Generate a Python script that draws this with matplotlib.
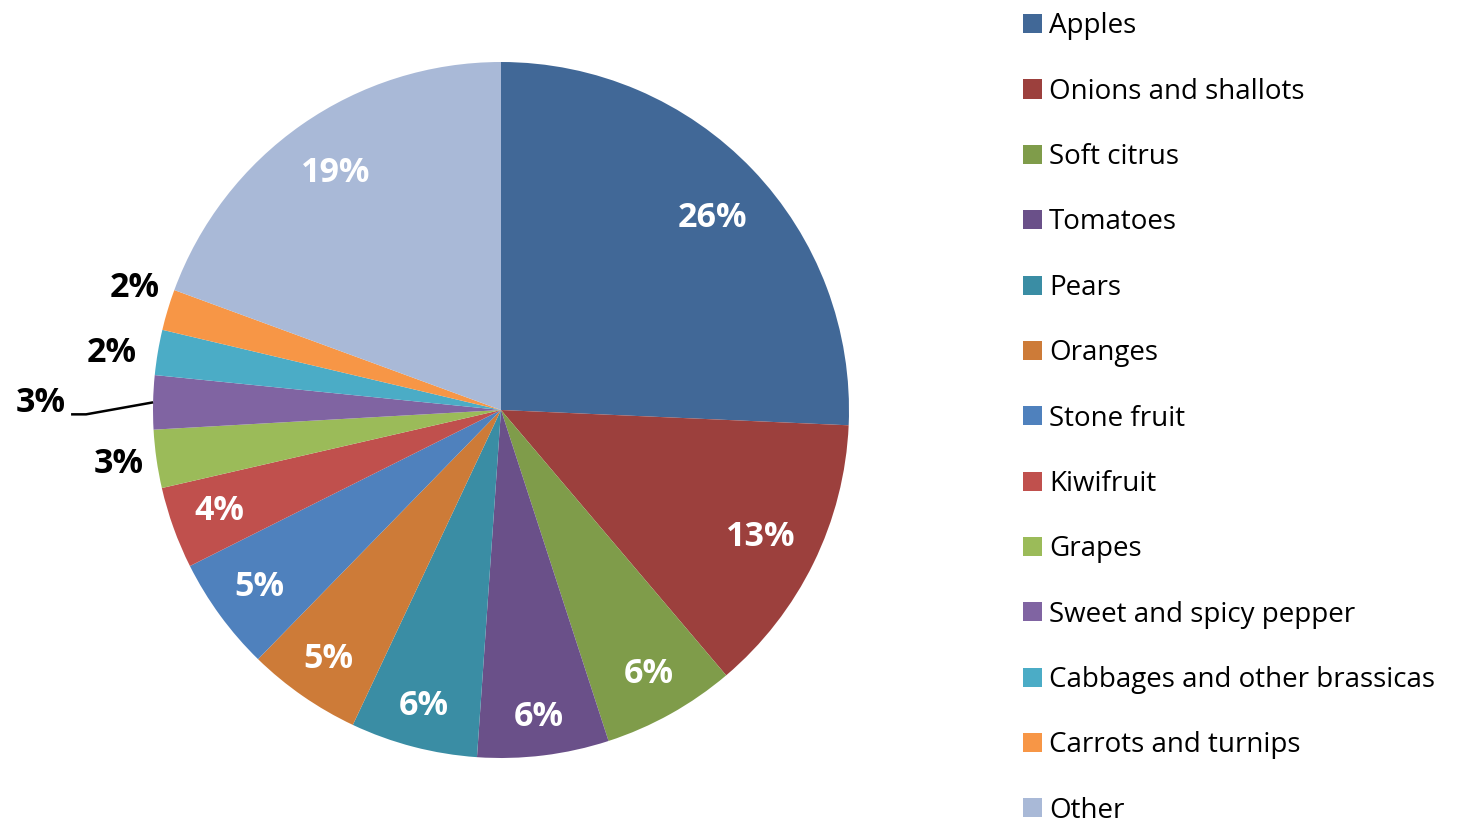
import numpy as np
import matplotlib
matplotlib.use("Agg")
import matplotlib.pyplot as plt

categories = ["Apples", "Onions and shallots", "Soft citrus", "Tomatoes", "Pears",
              "Oranges", "Stone fruit", "Kiwifruit", "Grapes", "Sweet and spicy pepper",
              "Cabbages and other brassicas", "Carrots and turnips", "Other"]
shares = [25.7, 13.1, 6.2, 6.1, 5.9, 5.3, 5.3, 3.8, 2.7, 2.5, 2.1, 1.9, 19.4]
labels = ["26%", "13%", "6%", "6%", "6%", "5%", "5%", "4%", "3%", "3%", "2%", "2%", "19%"]
colors = ["#416897", "#9C403D", "#7F9C4A", "#6A5089", "#3A8DA4", "#CD7B38",
          "#4F81BD", "#C0504D", "#9BBB59", "#8064A2", "#4BACC6", "#F79646", "#A9B9D7"]

plt.rcParams['font.family'] = ['Open Sans', 'DejaVu Sans']

W, H = 1463, 824
fig = plt.figure(figsize=(W / 100, H / 100), dpi=100)
ax = fig.add_axes([0, 0, 1, 1])

cx, cy, R = 501, H - 410, 348
wedges, _ = ax.pie(shares, colors=colors, startangle=90, counterclock=False,
                   center=(cx, cy), radius=R, wedgeprops=dict(linewidth=0),
                   frame=True)
ax.set_xlim(0, W)
ax.set_ylim(0, H)
ax.set_aspect('equal')
ax.axis('off')

FS = 24.5
# (radius factor, angular nudge in degrees) for each label
place = [(0.82, -1.5), (0.83, 0), (0.87, 0), (0.89, 0), (0.88, 0), (0.87, 0), (0.86, 0),
         (0.86, 0), (1.11, 0), None, (1.13, 1.2), (1.11, -1.6), (0.83, 0)]
for i, w in enumerate(wedges):
    mid_deg = (w.theta1 + w.theta2) / 2
    if place[i] is not None:
        rf, nudge = place[i]
        a = np.deg2rad(mid_deg + nudge)
        r = rf * R
        col = 'white' if rf < 1 else 'black'
        ax.text(cx + r * np.cos(a), cy + r * np.sin(a), labels[i], color=col,
                fontsize=FS, fontweight='bold', ha='center', va='center')
    else:
        a = np.deg2rad(mid_deg)
        ex, ey = cx + R * np.cos(a), cy + R * np.sin(a)
        ax.plot([ex, ex - 67, ex - 82], [ey, ey - 12, ey - 12], color='black', lw=1.8,
                solid_capstyle='butt')
        ax.text(ex - 87, ey - 1, labels[i], color='black', fontsize=FS,
                fontweight='bold', ha='right', va='center')

leg = fig.legend(wedges, categories, loc='upper left', bbox_to_anchor=(1012 / W, 0.9985),
                 frameon=False, fontsize=20, handlelength=0.68, handleheight=0.68,
                 handletextpad=0.25, labelspacing=1.345, borderaxespad=0)

fig.savefig("out.png", dpi=100)
